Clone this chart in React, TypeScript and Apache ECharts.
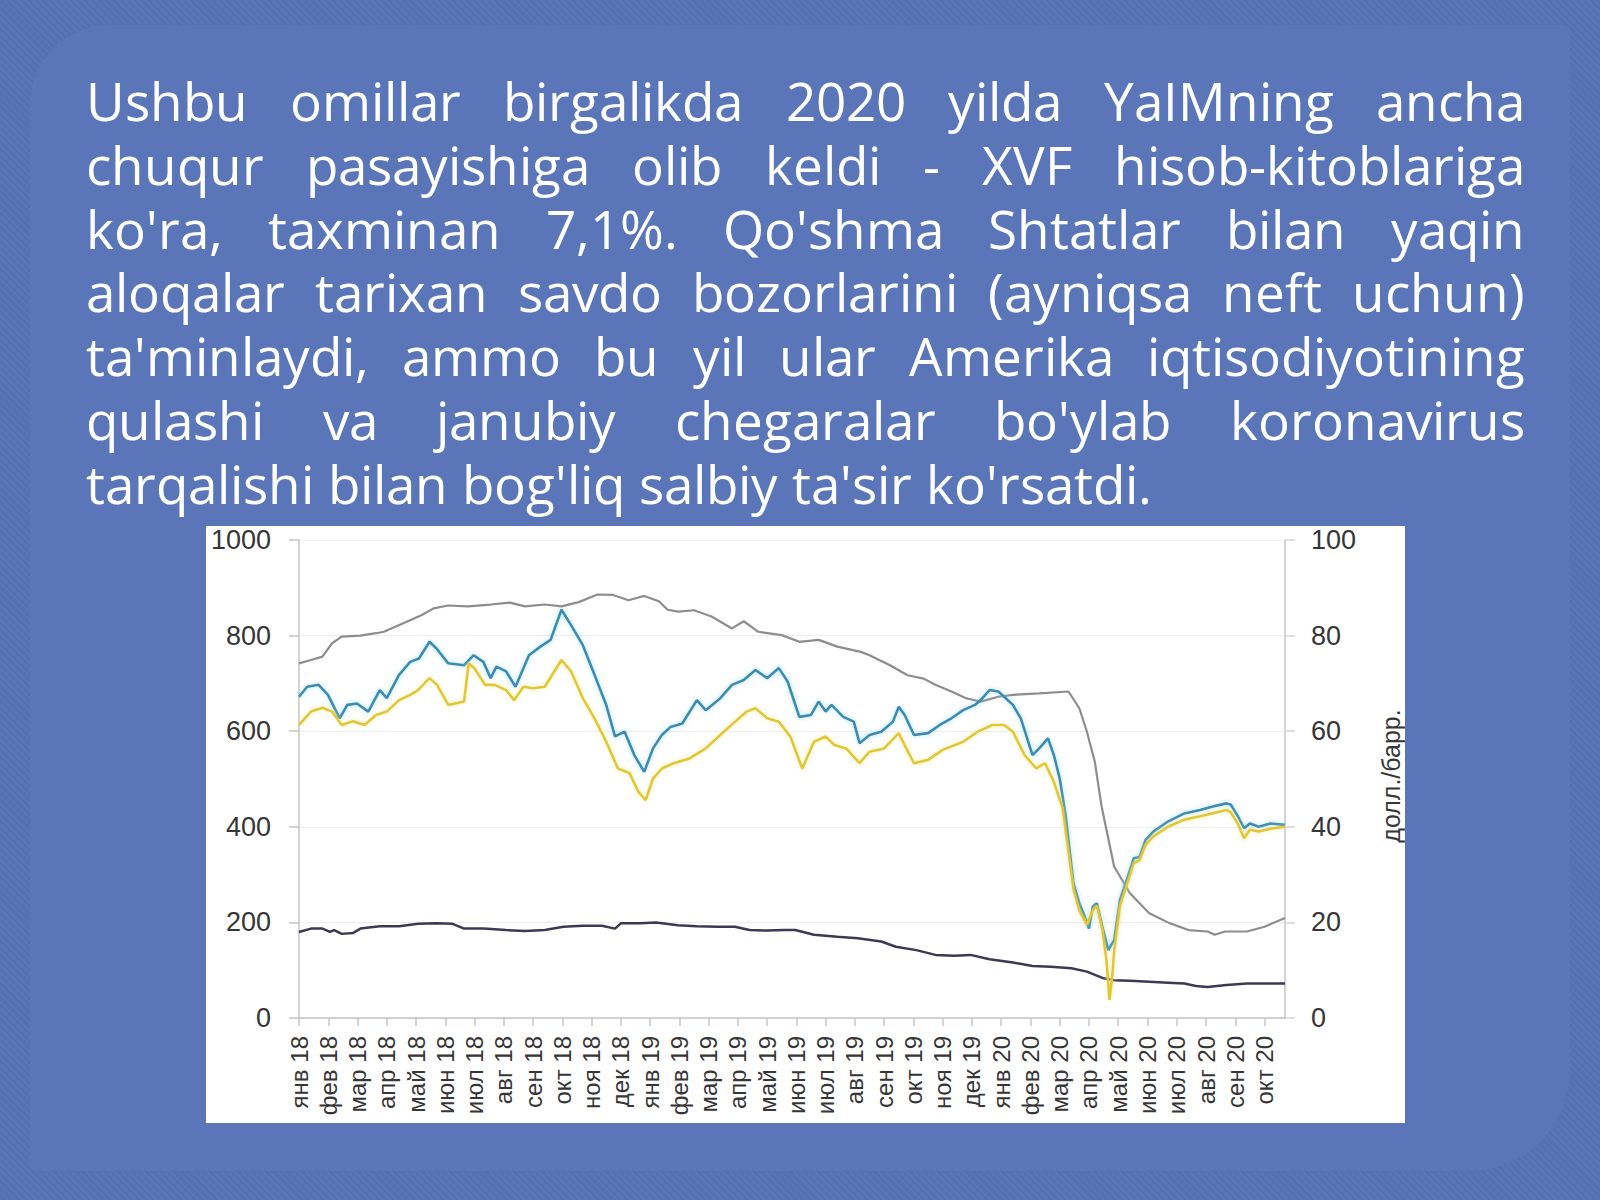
import React, { useEffect, useRef } from "react";
import * as echarts from "echarts";

const textLines = [
  "Ushbu omillar birgalikda 2020 yilda YaIMning ancha",
  "chuqur pasayishiga olib keldi - XVF hisob-kitoblariga",
  "ko'ra, taxminan 7,1%. Qo'shma Shtatlar bilan yaqin",
  "aloqalar tarixan savdo bozorlarini (ayniqsa neft uchun)",
  "ta'minlaydi, ammo bu yil ular Amerika iqtisodiyotining",
  "qulashi va janubiy chegaralar bo'ylab koronavirus",
  "tarqalishi bilan bog'liq salbiy ta'sir ko'rsatdi.",
];

const monthLabels = [
  "янв 18", "фев 18", "мар 18", "апр 18", "май 18", "июн 18", "июл 18", "авг 18", "сен 18", "окт 18", "ноя 18", "дек 18",
  "янв 19", "фев 19", "мар 19", "апр 19", "май 19", "июн 19", "июл 19", "авг 19", "сен 19", "окт 19", "ноя 19", "дек 19",
  "янв 20", "фев 20", "мар 20", "апр 20", "май 20", "июн 20", "июл 20", "авг 20", "сен 20", "окт 20",
];

const leftTicks = [0, 200, 400, 600, 800, 1000];
const rightTicks = [0, 20, 40, 60, 80, 100];
const rightAxisName = "долл./барр.";

// x = months since January 2018
const grayX = [0, 0.41, 0.8, 1.13, 1.46, 2.1, 2.63, 2.9, 3.68, 4.2, 4.6, 5.1, 5.77, 6.55, 7.2, 7.73, 8.4, 8.97, 9.56, 10.2, 10.74, 11.26, 11.8, 12.3, 12.6, 12.96, 13.5, 14.1, 14.8, 15.2, 15.7, 16.5, 17.1, 17.76, 18.4, 19.2, 19.5, 20.2, 20.8, 21.35, 21.75, 22.3, 22.8, 23.3, 23.9, 24.4, 25.3, 26.3, 26.67, 26.93, 27.2, 27.43, 27.86, 28.4, 29.06, 29.73, 30.4, 31.05, 31.3, 31.65, 32.4, 33.0, 33.7];
const grayY = [742, 749, 756, 784, 798, 800, 805, 808, 829, 843, 857, 863, 861, 865, 869, 861, 865, 861, 870, 886, 885, 874, 883, 872, 854, 850, 853, 840, 815, 830, 808, 801, 787, 791, 777, 766, 759, 738, 717, 710, 697, 683, 669, 662, 672, 676, 679, 683, 648, 599, 536, 443, 317, 261, 219, 199, 184, 181, 174, 181, 181, 191, 209];

const blueX = [0, 0.28, 0.67, 0.99, 1.39, 1.65, 1.98, 2.37, 2.76, 3.0, 3.42, 3.8, 4.1, 4.46, 4.7, 5.1, 5.64, 5.97, 6.3, 6.55, 6.75, 7.08, 7.4, 7.86, 8.25, 8.6, 8.97, 9.3, 9.7, 10.1, 10.5, 10.8, 11.13, 11.46, 11.8, 12.1, 12.4, 12.7, 13.1, 13.6, 13.9, 14.4, 14.8, 15.2, 15.6, 16.0, 16.4, 16.7, 17.1, 17.5, 17.76, 18.0, 18.2, 18.6, 18.96, 19.16, 19.5, 19.9, 20.3, 20.5, 20.7, 21.02, 21.5, 21.9, 22.3, 22.7, 23.1, 23.3, 23.6, 23.9, 24.1, 24.4, 24.67, 25.07, 25.3, 25.6, 25.8, 26.0, 26.2, 26.47, 26.67, 26.93, 27.0, 27.13, 27.27, 27.46, 27.66, 27.86, 28.06, 28.33, 28.53, 28.73, 28.93, 29.2, 29.7, 30.26, 30.8, 31.2, 31.7, 31.85, 32.1, 32.3, 32.5, 32.8, 33.2, 33.7];
const blueY = [67.2, 69.3, 69.7, 67.6, 62.7, 65.5, 65.8, 64.1, 68.6, 66.9, 71.8, 74.5, 75.2, 78.7, 77.3, 74.2, 73.8, 75.9, 74.5, 71.1, 73.5, 72.5, 69.3, 75.9, 77.7, 79.1, 85.4, 82.2, 78.0, 71.8, 65.5, 58.9, 59.9, 55.0, 51.5, 56.4, 59.2, 60.9, 61.6, 66.5, 64.4, 66.9, 69.7, 70.7, 72.8, 71.1, 73.2, 70.4, 63.0, 63.4, 66.2, 64.1, 65.5, 63.0, 62.0, 57.5, 59.2, 59.9, 62.0, 65.1, 63.4, 59.2, 59.6, 61.3, 62.7, 64.4, 65.5, 66.5, 68.6, 68.3, 67.2, 65.5, 62.7, 55.0, 56.4, 58.5, 55.0, 50.1, 42.5, 28.2, 24.0, 20.1, 18.7, 23.3, 24.0, 19.1, 14.2, 16.3, 24.7, 29.6, 33.4, 33.7, 37.2, 39.0, 41.1, 42.8, 43.5, 44.2, 44.9, 44.6, 42.1, 39.7, 40.7, 40.0, 40.7, 40.4];

const yellowX = [0, 0.41, 0.8, 1.13, 1.46, 1.85, 2.24, 2.63, 3.0, 3.42, 3.8, 4.07, 4.46, 4.72, 5.1, 5.64, 5.8, 6.0, 6.36, 6.69, 7.08, 7.35, 7.67, 8.0, 8.4, 8.97, 9.3, 9.7, 10.1, 10.5, 10.9, 11.3, 11.6, 11.85, 12.1, 12.4, 12.8, 13.35, 13.9, 14.4, 14.9, 15.3, 15.6, 16.0, 16.4, 16.8, 17.2, 17.6, 18.0, 18.3, 18.7, 19.16, 19.5, 20.0, 20.5, 20.7, 21.02, 21.5, 22.0, 22.7, 23.2, 23.7, 24.1, 24.4, 24.8, 25.2, 25.5, 25.8, 26.1, 26.47, 26.67, 26.93, 27.13, 27.27, 27.46, 27.6, 27.7, 27.8, 27.86, 28.06, 28.33, 28.53, 28.73, 28.93, 29.2, 29.7, 30.26, 30.8, 31.2, 31.7, 31.85, 32.1, 32.3, 32.5, 32.8, 33.2, 33.7];
const yellowY = [61.3, 64.1, 64.9, 64.1, 61.3, 62.1, 61.3, 63.4, 64.1, 66.5, 67.6, 68.6, 71.1, 69.7, 65.5, 66.2, 74.2, 73.1, 69.7, 69.7, 68.6, 66.5, 69.3, 69.0, 69.3, 74.9, 72.5, 66.9, 62.7, 57.8, 52.2, 51.2, 47.3, 45.6, 50.1, 52.2, 53.3, 54.3, 56.4, 59.2, 62.0, 64.1, 64.8, 62.7, 62.0, 58.8, 52.2, 57.8, 58.9, 57.1, 56.4, 53.3, 55.7, 56.4, 59.6, 57.1, 53.3, 54.0, 56.1, 57.8, 59.9, 61.3, 61.3, 59.9, 55.0, 52.2, 53.3, 49.4, 43.9, 27.0, 22.5, 19.5, 22.5, 23.5, 18.4, 12.0, 3.8, 9.0, 14.0, 23.5, 28.6, 32.4, 33.0, 36.2, 38.0, 40.0, 41.5, 42.2, 42.8, 43.5, 43.0, 40.5, 37.6, 39.4, 39.0, 39.6, 40.0];

const darkX = [0, 0.41, 0.8, 1.06, 1.2, 1.46, 1.85, 2.1, 2.76, 3.42, 4.07, 4.7, 5.25, 5.64, 6.3, 7.08, 7.73, 8.4, 9.04, 9.7, 10.35, 10.8, 11.0, 11.66, 12.2, 12.95, 13.6, 14.3, 14.9, 15.4, 16.0, 16.6, 16.96, 17.6, 18.4, 19.1, 19.9, 20.4, 21.1, 21.75, 22.4, 22.95, 23.6, 24.4, 25.07, 25.7, 26.4, 26.93, 27.5, 27.86, 28.4, 29.06, 29.7, 30.26, 30.66, 31.05, 31.7, 32.4, 33.05, 33.7];
const darkY = [180, 187, 187, 180, 184, 176, 178, 187, 192, 192, 197, 198, 197, 187, 187, 184, 182, 184, 191, 193, 193, 187, 198, 198, 200, 194, 192, 191, 191, 184, 183, 184, 184, 174, 170, 167, 160, 149, 142, 132, 130, 132, 123, 116, 109, 107, 104, 97, 83, 79, 78, 76, 74, 72, 67, 65, 69, 72, 72, 72];

const pairs = (xs: number[], ys: number[]) => xs.map((x, i) => [x, ys[i]]);

const labelFont = "'Liberation Sans', Arial, sans-serif";

const fontFaceCss = `
@font-face {
  font-family: 'OpenSansTight';
  src: local('Open Sans Regular'), local('OpenSans-Regular'), local('Open Sans');
  ascent-override: 90%;
  descent-override: 25%;
  line-gap-override: 0%;
}
`;

export default function App() {
  const ref = useRef<HTMLDivElement>(null);

  useEffect(() => {
    const el = ref.current;
    if (!el) return;
    const chart = echarts.init(el, null, { renderer: "svg" });
    chart.setOption({
      animation: false,
      backgroundColor: "#ffffff",
      grid: { left: 93, right: 120, top: 14, bottom: 105, outerBoundsMode: "none" },
      xAxis: {
        type: "value",
        min: 0,
        max: 33.7,
        interval: 1,
        axisLine: { show: true, onZero: false, lineStyle: { color: "#c4c4c4", width: 1.5 } },
        axisTick: { show: true, length: 8, lineStyle: { color: "#c4c4c4", width: 1.5 } },
        splitLine: { show: false },
        axisLabel: {
          rotate: 90,
          margin: 18,
          fontFamily: labelFont,
          fontSize: 24,
          color: "#363636",
          showMaxLabel: false,
          formatter: (v: number) => (Number.isInteger(v) && monthLabels[v] ? monthLabels[v] : ""),
        },
      },
      yAxis: [
        {
          type: "value",
          min: leftTicks[0],
          max: leftTicks[leftTicks.length - 1],
          interval: leftTicks[1] - leftTicks[0],
          axisLine: { show: true, lineStyle: { color: "#c4c4c4", width: 1.5 } },
          axisTick: { show: true, length: 10, lineStyle: { color: "#c4c4c4", width: 1.5 } },
          splitLine: { show: true, lineStyle: { color: "#eeeeee", width: 1 } },
          axisLabel: {
            margin: 28,
            fontFamily: labelFont,
            fontSize: 27,
            color: "#363636",
            formatter: (v: number) => String(v),
          },
        },
        {
          type: "value",
          position: "right",
          min: rightTicks[0],
          max: rightTicks[rightTicks.length - 1],
          interval: rightTicks[1] - rightTicks[0],
          axisLine: { show: true, lineStyle: { color: "#c4c4c4", width: 1.5 } },
          axisTick: { show: true, length: 10, lineStyle: { color: "#d6d6d6", width: 1.5 } },
          splitLine: { show: false },
          axisLabel: {
            margin: 26,
            fontFamily: labelFont,
            fontSize: 27,
            color: "#363636",
            formatter: (v: number) => String(v),
          },
        },
      ],
      graphic: [
        {
          type: "text",
          x: 1185,
          y: 250,
          rotation: Math.PI / 2,
          style: {
            text: rightAxisName,
            fontFamily: labelFont,
            fontSize: 25,
            fill: "#363636",
            align: "center",
            verticalAlign: "middle",
          },
        },
      ],
      series: [
        {
          name: "dark",
          type: "line",
          yAxisIndex: 0,
          data: pairs(darkX, darkY),
          showSymbol: false,
          lineStyle: { color: "#3f3854", width: 2.5 },
        },
        {
          name: "gray",
          type: "line",
          yAxisIndex: 0,
          data: pairs(grayX, grayY),
          showSymbol: false,
          lineStyle: { color: "#8d8d8d", width: 2.2 },
        },
        {
          name: "blue",
          type: "line",
          yAxisIndex: 1,
          data: pairs(blueX, blueY),
          showSymbol: false,
          lineStyle: { color: "#3a8bb2", width: 2.6, shadowColor: "rgba(140,215,240,0.7)", shadowBlur: 5 },
        },
        {
          name: "yellow",
          type: "line",
          yAxisIndex: 1,
          data: pairs(yellowX, yellowY),
          showSymbol: false,
          lineStyle: { color: "#e2c733", width: 2.6, shadowColor: "rgba(245,235,150,0.7)", shadowBlur: 5 },
        },
      ],
    });
    return () => chart.dispose();
  }, []);

  return (
    <div
      style={{
        position: "fixed",
        left: 0,
        top: 0,
        width: 1600,
        height: 1200,
        overflow: "hidden",
        background: "#5571b3",
        backgroundImage:
          "repeating-linear-gradient(45deg, rgba(255,255,255,0.03) 0px, rgba(255,255,255,0.03) 2px, rgba(0,0,0,0) 2px, rgba(0,0,0,0) 5px)",
      }}
    >
      <style>{fontFaceCss}</style>
      <div
        style={{
          position: "absolute",
          left: 30,
          top: 25,
          width: 1540,
          height: 1146,
          borderRadius: "80px 6px 100px 6px",
          background: "#5a76b8",
        }}
      />
      <div
        style={{
          position: "absolute",
          left: 86,
          top: 72,
          width: 1439,
          fontFamily: "'OpenSansTight', 'Open Sans', 'Noto Sans', sans-serif",
          fontSize: 53,
          lineHeight: "63.8px",
          color: "#ffffff",
        }}
      >
        {textLines.map((line, i) => (
          <div
            key={i}
            style={{
              height: 63.8,
              textAlign: i < textLines.length - 1 ? "justify" : "left",
              textAlignLast: i < textLines.length - 1 ? "justify" : "left",
            }}
          >
            {line}
          </div>
        ))}
      </div>
      <div
        ref={ref}
        style={{ position: "absolute", left: 206, top: 526, width: 1199, height: 597, background: "#ffffff" }}
      />
    </div>
  );
}
